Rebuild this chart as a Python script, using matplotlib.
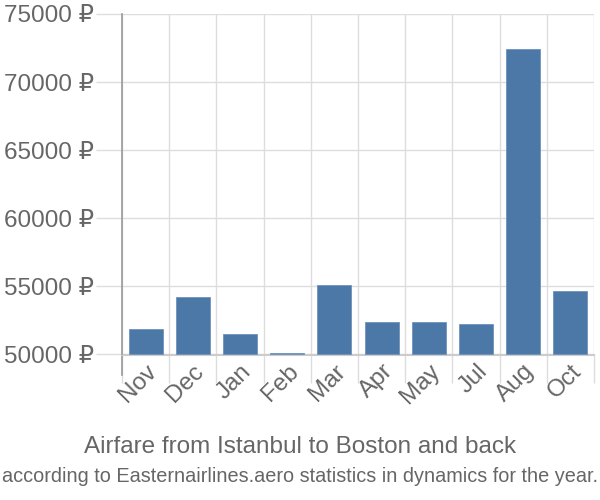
import numpy as np
import matplotlib
matplotlib.use('Agg')
import matplotlib.pyplot as plt
from matplotlib.ticker import FixedLocator, FuncFormatter
from matplotlib.transforms import blended_transform_factory

# Data

months = ['Nov', 'Dec', 'Jan', 'Feb', 'Mar', 'Apr', 'May', 'Jul', 'Aug', 'Oct']
prices = [51850, 54220, 51480, 50110, 55100, 52360, 52360, 52260, 72430, 54660]
y_ticks = [50000, 55000, 60000, 65000, 70000, 75000]

title = 'Airfare from Istanbul to Boston and back'
subtitle = 'according to Easternairlines.aero statistics in dynamics for the year.'

text_grey = '#666666'
plt.rcParams['font.family'] = ['Liberation Sans', 'DejaVu Sans']

fig = plt.figure(figsize=(6, 5), dpi=100)
ax = fig.add_axes([122 / 600, 1 - 354.5 / 500, 472 / 600, 340.5 / 500])

x = np.arange(len(months))
ax.bar(x, np.array(prices) - 50000, bottom=50000, width=0.72,
       color='#4c78a8', edgecolor='#6f93bd', linewidth=0.6, zorder=3)

ax.set_xlim(-0.5, len(months) - 0.5)
ax.set_ylim(50000, 75000)

# y axis: grid lines stretching out as ticks
ax.yaxis.set_major_locator(FixedLocator(y_ticks))
ax.yaxis.set_major_formatter(FuncFormatter(lambda v, p: '%d ₽' % v))
ax.tick_params(axis='y', length=19, width=1, color='#dddddd',
               labelsize=17.5, labelcolor=text_grey, pad=1)
ax.grid(axis='y', color='#dddddd', linewidth=1, zorder=0)

# x axis: labels at centres, grid lines at category edges
ax.set_xticks(x)
ax.set_xticklabels(months, rotation=45, ha='right', va='top',
                   rotation_mode='anchor')
ax.tick_params(axis='x', which='major', length=0, labelsize=17.5,
               labelcolor=text_grey, pad=4)
ax.set_xticks(np.arange(len(months) + 1) - 0.5, minor=True)
ax.tick_params(axis='x', which='minor', length=20, width=1, color='#dddddd')
ax.grid(axis='x', which='minor', color='#dddddd', linewidth=1, zorder=0)

for side in ['top', 'right']:
    ax.spines[side].set_visible(False)
ax.spines['left'].set_color('#999999')
ax.spines['left'].set_linewidth(1.2)
ax.spines['left'].set_zorder(4)
ax.spines['bottom'].set_color('#cccccc')
ax.spines['bottom'].set_linewidth(1.5)

# left axis continues down like a tick
ax.plot([-0.5, -0.5], [0, -20 / 340.5],
        transform=blended_transform_factory(ax.transData, ax.transAxes),
        color='#999999', linewidth=1.2, clip_on=False)

fig.text(0.5, 1 - 447 / 500, title, ha='center', va='center',
         fontsize=17.5, color=text_grey)
fig.text(0.5, 1 - 476 / 500, subtitle, ha='center', va='center',
         fontsize=14.3, color=text_grey)

fig.savefig('out.png', dpi=100)
